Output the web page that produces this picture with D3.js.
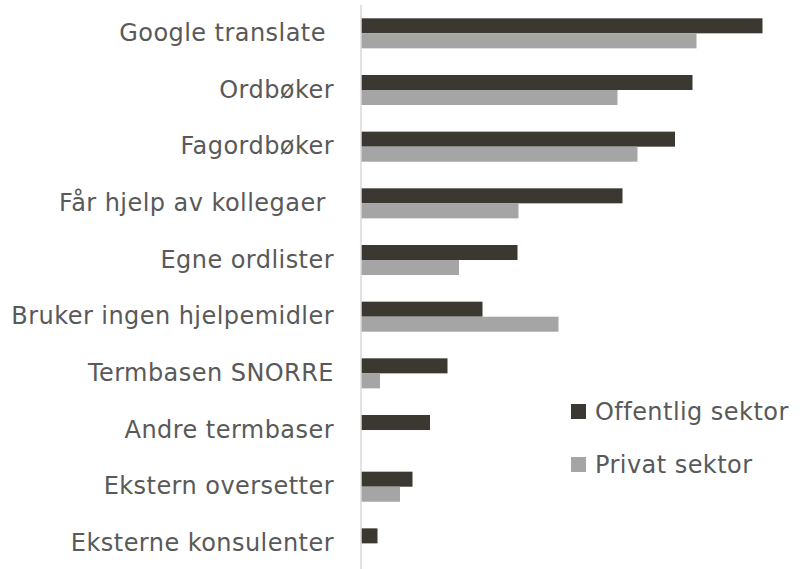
<!DOCTYPE html>
<html>
<head>
<meta charset="utf-8">
<script src="https://cdn.jsdelivr.net/npm/d3@7"></script>
<style>
  body { margin: 0; background: #fff; }
  svg text { font-family: "DejaVu Sans", sans-serif; fill: #595959; white-space: pre; letter-spacing: 0.45px; }
</style>
</head>
<body>
<div id="chart"></div>
<script>
var categories = ["Google translate ", "Ordbøker", "Fagordbøker", "Får hjelp av kollegaer ", "Egne ordlister",
  "Bruker ingen hjelpemidler", "Termbasen SNORRE", "Andre termbaser", "Ekstern oversetter", "Eksterne konsulenter"];
var offentlig = [80.3, 66.3, 62.8, 52.3, 31.3, 24.3, 17.3, 13.8, 10.3, 3.3];
var privat = [67.1, 51.3, 55.3, 31.5, 19.6, 39.5, 3.8, 0, 7.8, 0];
var seriesNames = ["Offentlig sektor", "Privat sektor"];
var seriesColors = ["#3b3832", "#a5a5a5"];

(function () {
  'use strict'

  var width = 801, height = 569;
  var fontSize = 24;

  var svg = d3.select("#chart").append("svg")
    .attr("width", width)
    .attr("height", height);

  var x = d3.scaleLinear().domain([0, 100]).range([361, 861]);
  var y = d3.scaleBand().domain(categories).range([5, 571.7]).paddingInner(0.47).paddingOuter(0.235);
  var ySub = d3.scaleBand().domain([0, 1]).range([0, y.bandwidth()]);

  var rows = categories.map(function (c, i) { return { label: c, vals: [offentlig[i], privat[i]] }; });

  var g = svg.selectAll(".grp")
    .data(rows)
    .enter().append("g")
    .attr("class", "grp")
    .attr("transform", function (d) { return "translate(0," + y(d.label) + ")"; });

  g.selectAll("rect")
    .data(function (d) { return d.vals; })
    .enter().append("rect")
    .attr("x", x(0))
    .attr("y", function (d, i) { return ySub(i); })
    .attr("width", function (d) { return x(d) - x(0); })
    .attr("height", ySub.bandwidth())
    .attr("fill", function (d, i) { return seriesColors[i]; });

  // vertical axis line
  svg.append("line")
    .attr("x1", x(0)).attr("x2", x(0))
    .attr("y1", 5).attr("y2", height)
    .attr("stroke", "#d9d9d9")
    .attr("stroke-width", 1.5);

  var yAxis = svg.append("g")
    .attr("transform", "translate(" + (x(0) - 27) + ",0)")
    .call(d3.axisLeft(y).tickSize(0).tickPadding(0));
  yAxis.select(".domain").remove();
  yAxis.selectAll("text")
    .attr("fill", "#595959")
    .style("font-size", fontSize + "px")
    .style("font-family", "DejaVu Sans, sans-serif");

  var legend = svg.append("g").attr("transform", "translate(571,404)");
  var li = legend.selectAll("g")
    .data(seriesNames)
    .enter().append("g")
    .attr("transform", function (d, i) { return "translate(0," + (i * 53) + ")"; });
  li.append("rect")
    .attr("width", 15).attr("height", 15)
    .attr("fill", function (d, i) { return seriesColors[i]; });
  li.append("text")
    .attr("x", 24).attr("y", 7.5).attr("dy", "0.35em")
    .style("font-size", fontSize + "px")
    .text(function (d) { return d; });
})()
</script>
</body>
</html>
